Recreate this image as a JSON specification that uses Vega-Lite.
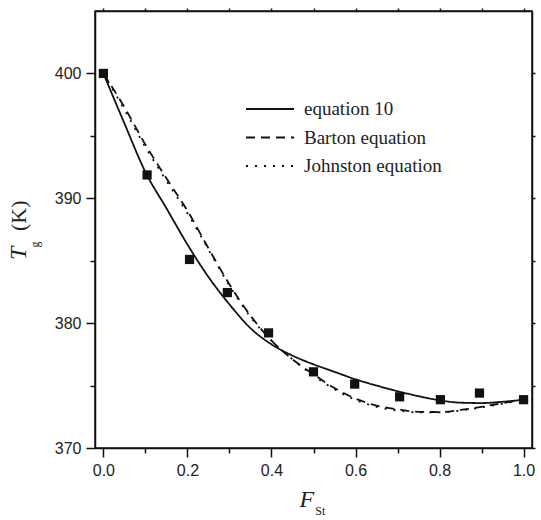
{
  "$schema": "https://vega.github.io/schema/vega-lite/v6.json",
  "width": 437,
  "height": 437,
  "autosize": "none",
  "padding": {"left": 95, "top": 11, "right": 9, "bottom": 72},
  "background": "white",
  "config": {
    "view": {"stroke": "#111", "strokeWidth": 1.5},
    "axis": {"grid": false, "domainColor": "#111", "domainWidth": 1.5, "tickColor": "#111", "tickWidth": 1.5, "labelFont": "Liberation Sans", "labelFontSize": 16, "labelColor": "#222", "title": null}
  },
  "datasets": {
    "curves": [
      {"series": "equation 10", "x": 0.0, "y": 400.0},
      {"series": "equation 10", "x": 0.05, "y": 396.0},
      {"series": "equation 10", "x": 0.1, "y": 392.1},
      {"series": "equation 10", "x": 0.15, "y": 389.2},
      {"series": "equation 10", "x": 0.2, "y": 386.3},
      {"series": "equation 10", "x": 0.25, "y": 383.7},
      {"series": "equation 10", "x": 0.3, "y": 381.5},
      {"series": "equation 10", "x": 0.35, "y": 379.6},
      {"series": "equation 10", "x": 0.4, "y": 378.3},
      {"series": "equation 10", "x": 0.45, "y": 377.4},
      {"series": "equation 10", "x": 0.5, "y": 376.7},
      {"series": "equation 10", "x": 0.55, "y": 376.1},
      {"series": "equation 10", "x": 0.6, "y": 375.5},
      {"series": "equation 10", "x": 0.65, "y": 375.0},
      {"series": "equation 10", "x": 0.7, "y": 374.55},
      {"series": "equation 10", "x": 0.75, "y": 374.15},
      {"series": "equation 10", "x": 0.8, "y": 373.82},
      {"series": "equation 10", "x": 0.85, "y": 373.63},
      {"series": "equation 10", "x": 0.9, "y": 373.6},
      {"series": "equation 10", "x": 0.95, "y": 373.7},
      {"series": "equation 10", "x": 1.0, "y": 373.87},
      {"series": "Barton equation", "x": 0.0, "y": 400.0},
      {"series": "Barton equation", "x": 0.05, "y": 397.3},
      {"series": "Barton equation", "x": 0.1, "y": 394.3},
      {"series": "Barton equation", "x": 0.15, "y": 391.6},
      {"series": "Barton equation", "x": 0.2, "y": 389.0},
      {"series": "Barton equation", "x": 0.25, "y": 386.0},
      {"series": "Barton equation", "x": 0.3, "y": 383.1},
      {"series": "Barton equation", "x": 0.35, "y": 380.6},
      {"series": "Barton equation", "x": 0.4, "y": 378.6},
      {"series": "Barton equation", "x": 0.45, "y": 377.1},
      {"series": "Barton equation", "x": 0.5, "y": 375.9},
      {"series": "Barton equation", "x": 0.55, "y": 374.8},
      {"series": "Barton equation", "x": 0.6, "y": 373.95},
      {"series": "Barton equation", "x": 0.65, "y": 373.4},
      {"series": "Barton equation", "x": 0.7, "y": 373.1},
      {"series": "Barton equation", "x": 0.75, "y": 372.9},
      {"series": "Barton equation", "x": 0.8, "y": 372.88},
      {"series": "Barton equation", "x": 0.85, "y": 373.05},
      {"series": "Barton equation", "x": 0.9, "y": 373.3},
      {"series": "Barton equation", "x": 0.95, "y": 373.6},
      {"series": "Barton equation", "x": 1.0, "y": 373.87},
      {"series": "Johnston equation", "x": 0.0, "y": 400.0},
      {"series": "Johnston equation", "x": 0.05, "y": 397.1},
      {"series": "Johnston equation", "x": 0.1, "y": 394.1},
      {"series": "Johnston equation", "x": 0.15, "y": 391.4},
      {"series": "Johnston equation", "x": 0.2, "y": 388.8},
      {"series": "Johnston equation", "x": 0.25, "y": 385.9},
      {"series": "Johnston equation", "x": 0.3, "y": 383.0},
      {"series": "Johnston equation", "x": 0.35, "y": 380.5},
      {"series": "Johnston equation", "x": 0.4, "y": 378.6},
      {"series": "Johnston equation", "x": 0.45, "y": 377.1},
      {"series": "Johnston equation", "x": 0.5, "y": 375.8},
      {"series": "Johnston equation", "x": 0.55, "y": 374.7},
      {"series": "Johnston equation", "x": 0.6, "y": 373.85},
      {"series": "Johnston equation", "x": 0.65, "y": 373.3},
      {"series": "Johnston equation", "x": 0.7, "y": 373.0},
      {"series": "Johnston equation", "x": 0.75, "y": 372.85},
      {"series": "Johnston equation", "x": 0.8, "y": 372.85},
      {"series": "Johnston equation", "x": 0.85, "y": 373.0},
      {"series": "Johnston equation", "x": 0.9, "y": 373.25},
      {"series": "Johnston equation", "x": 0.95, "y": 373.55},
      {"series": "Johnston equation", "x": 1.0, "y": 373.87}
    ],
    "points": [
      {"x": 0.0, "y": 400.0},
      {"x": 0.104, "y": 391.87},
      {"x": 0.205, "y": 385.1},
      {"x": 0.295, "y": 382.45},
      {"x": 0.393, "y": 379.22},
      {"x": 0.5, "y": 376.1},
      {"x": 0.598, "y": 375.12},
      {"x": 0.705, "y": 374.1},
      {"x": 0.802, "y": 373.87},
      {"x": 0.895, "y": 374.4},
      {"x": 1.0, "y": 373.87}
    ],
    "one": [{}]
  },
  "layer": [
    {
      "data": {"name": "curves"},
      "mark": {"type": "line", "color": "#111", "strokeWidth": 1.8, "interpolate": "monotone"},
      "encoding": {
        "x": {"field": "x", "type": "quantitative", "scale": {"domain": [-0.02, 1.02], "nice": false, "zero": false},
          "axis": {"orient": "bottom", "values": [0, 0.1, 0.2, 0.3, 0.4, 0.5, 0.6, 0.7, 0.8, 0.9, 1.0],
            "labelExpr": "round(datum.value*10)%2==0 ? format(datum.value, '.1f') : ''",
            "tickSize": {"condition": {"test": "round(datum.value*10)%2==0", "value": 9}, "value": 5},
            "labelPadding": 5, "labelOverlap": false, "labelFlush": false}},
        "y": {"field": "y", "type": "quantitative", "scale": {"domain": [370, 405], "nice": false, "zero": false},
          "axis": {"orient": "left", "values": [370, 375, 380, 385, 390, 395, 400],
            "labelExpr": "datum.value%10==0 ? datum.label : ''",
            "tickSize": {"condition": {"test": "datum.value%10==0", "value": 9}, "value": 5},
            "labelPadding": 5, "labelOverlap": false}},
        "strokeDash": {"field": "series", "type": "nominal",
          "scale": {"domain": ["equation 10", "Barton equation", "Johnston equation"], "range": [[1, 0], [9, 6], [2, 7]]},
          "legend": {"orient": "none", "legendX": 162, "legendY": 85, "title": null, "symbolType": "M-2,0H2", "symbolSize": 576,
            "symbolStrokeWidth": 2, "symbolStrokeColor": "#111", "symbolFillColor": "transparent", "labelFont": "Liberation Serif", "labelFontSize": 19, "labelColor": "#222",
            "labelOffset": 21, "rowPadding": 5.5, "padding": 0}}
      }
    },
    {
      "data": {"name": "points"},
      "mark": {"type": "point", "shape": "square", "filled": true, "color": "#111", "size": 85, "opacity": 1},
      "encoding": {
        "x": {"field": "x", "type": "quantitative", "scale": {"domain": [-0.02, 1.02], "nice": false, "zero": false},
          "axis": {"orient": "top", "values": [0, 0.1, 0.2, 0.3, 0.4, 0.5, 0.6, 0.7, 0.8, 0.9, 1.0], "labels": false, "tickSize": 3}},
        "y": {"field": "y", "type": "quantitative", "scale": {"domain": [370, 405], "nice": false, "zero": false},
          "axis": {"orient": "right", "values": [370, 375, 380, 385, 390, 395, 400], "labels": false, "tickSize": 3}}
      }
    },
    {
      "data": {"name": "one"},
      "mark": {"type": "text", "text": "T", "font": "Liberation Serif", "fontStyle": "italic", "fontSize": 24, "angle": 270, "align": "center", "baseline": "middle", "color": "#222"},
      "encoding": {
        "x": {"datum": -0.2007, "type": "quantitative", "scale": {"domain": [-0.02, 1.02], "nice": false, "zero": false}, "axis": null},
        "y": {"datum": 385.6, "type": "quantitative", "scale": {"domain": [370, 405], "nice": false, "zero": false}, "axis": null}
      }
    },
    {
      "data": {"name": "one"},
      "mark": {"type": "text", "text": "g", "font": "Liberation Serif", "fontSize": 12, "angle": 270, "align": "center", "baseline": "middle", "color": "#222"},
      "encoding": {
        "x": {"datum": -0.1626, "type": "quantitative", "scale": {"domain": [-0.02, 1.02], "nice": false, "zero": false}, "axis": null},
        "y": {"datum": 386.3, "type": "quantitative", "scale": {"domain": [370, 405], "nice": false, "zero": false}, "axis": null}
      }
    },
    {
      "data": {"name": "one"},
      "mark": {"type": "text", "text": "(K)", "font": "Liberation Serif", "fontSize": 22, "angle": 270, "align": "center", "baseline": "middle", "color": "#222"},
      "encoding": {
        "x": {"datum": -0.2007, "type": "quantitative", "scale": {"domain": [-0.02, 1.02], "nice": false, "zero": false}, "axis": null},
        "y": {"datum": 388.6, "type": "quantitative", "scale": {"domain": [370, 405], "nice": false, "zero": false}, "axis": null}
      }
    },
    {
      "data": {"name": "one"},
      "mark": {"type": "text", "text": "F", "font": "Liberation Serif", "fontStyle": "italic", "fontSize": 24, "align": "center", "baseline": "middle", "color": "#222"},
      "encoding": {
        "x": {"datum": 0.484, "type": "quantitative", "scale": {"domain": [-0.02, 1.02], "nice": false, "zero": false}, "axis": null},
        "y": {"datum": 365.8, "type": "quantitative", "scale": {"domain": [370, 405], "nice": false, "zero": false}, "axis": null}
      }
    },
    {
      "data": {"name": "one"},
      "mark": {"type": "text", "text": "St", "font": "Liberation Serif", "fontSize": 12, "align": "center", "baseline": "middle", "color": "#222"},
      "encoding": {
        "x": {"datum": 0.516, "type": "quantitative", "scale": {"domain": [-0.02, 1.02], "nice": false, "zero": false}, "axis": null},
        "y": {"datum": 364.95, "type": "quantitative", "scale": {"domain": [370, 405], "nice": false, "zero": false}, "axis": null}
      }
    }
  ],
  "resolve": {"axis": {"x": "independent", "y": "independent"}}
}
